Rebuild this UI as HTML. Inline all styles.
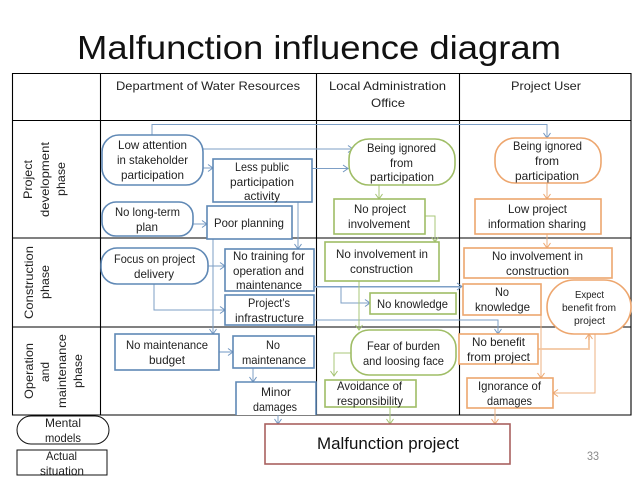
<!DOCTYPE html>
<html><head><meta charset="utf-8"><title>Malfunction influence diagram</title>
<style>
html,body{margin:0;padding:0;background:#fff;width:638px;height:479px;overflow:hidden}
svg{display:block}
text{font-family:"Liberation Sans",sans-serif;font-size:12px;fill:#222}
.b{fill:#fff;stroke:#5f88b5;stroke-width:1.6}
.g{fill:#fff;stroke:#9fbd66;stroke-width:1.6}
.o{fill:#fff;stroke:#eda66e;stroke-width:1.6}
.k{fill:#fff;stroke:#111;stroke-width:1}
.t{stroke:#000;stroke-width:1.1;fill:none}
.cb{fill:none;stroke:#7d9fc6;stroke-width:1}
.cb2{fill:none;stroke:#a5bedb;stroke-width:1.6}
.cg{fill:none;stroke:#a9c77a;stroke-width:1}
.co{fill:none;stroke:#eeb081;stroke-width:1}
.co2{fill:none;stroke:#f3c6a0;stroke-width:1.8}
</style></head><body>
<svg width="638" height="479" viewBox="0 0 638 479" xmlns="http://www.w3.org/2000/svg">
<defs>
<marker id="ab" markerUnits="userSpaceOnUse" markerWidth="10" markerHeight="10" refX="7" refY="5" orient="auto"><path d="M2 1.500L7 5L2 8.500" fill="none" stroke="#6f94bf" stroke-width="1"/></marker>
<marker id="ag" markerUnits="userSpaceOnUse" markerWidth="10" markerHeight="10" refX="7" refY="5" orient="auto"><path d="M2 1.500L7 5L2 8.500" fill="none" stroke="#a3c270" stroke-width="1"/></marker>
<marker id="ao" markerUnits="userSpaceOnUse" markerWidth="10" markerHeight="10" refX="7" refY="5" orient="auto"><path d="M2 1.500L7 5L2 8.500" fill="none" stroke="#eda66e" stroke-width="1"/></marker>
</defs>

<text x="77" y="59" style="font-size:33px;fill:#111" textLength="484" lengthAdjust="spacingAndGlyphs">Malfunction influence diagram</text>

<!-- table -->
<path class="t" d="M12.500 73.500H631V415H12.500ZM12.500 120.500H631M12.500 238H631M12.500 327H631M100.500 73.500V415M316.500 73.500V415M459.500 73.500V415"/>

<text x="116" y="90" textLength="184" lengthAdjust="spacingAndGlyphs">Department of Water Resources</text>
<text x="329" y="90" textLength="117" lengthAdjust="spacingAndGlyphs">Local Administration</text>
<text x="371" y="107" textLength="34" lengthAdjust="spacingAndGlyphs">Office</text>
<text x="511" y="90" textLength="70" lengthAdjust="spacingAndGlyphs">Project User</text>

<!-- rotated labels -->
<text transform="translate(32,199) rotate(-90)" textLength="39" lengthAdjust="spacingAndGlyphs">Project</text>
<text transform="translate(49,217) rotate(-90)" textLength="75" lengthAdjust="spacingAndGlyphs">development</text>
<text transform="translate(65,196) rotate(-90)" textLength="34" lengthAdjust="spacingAndGlyphs">phase</text>
<text transform="translate(33,319) rotate(-90)" textLength="73" lengthAdjust="spacingAndGlyphs">Construction</text>
<text transform="translate(49,299) rotate(-90)" textLength="34" lengthAdjust="spacingAndGlyphs">phase</text>
<text transform="translate(33,399) rotate(-90)" textLength="56" lengthAdjust="spacingAndGlyphs">Operation</text>
<text transform="translate(49,382) rotate(-90)" textLength="20" lengthAdjust="spacingAndGlyphs">and</text>
<text transform="translate(66,408) rotate(-90)" textLength="74" lengthAdjust="spacingAndGlyphs">maintenance</text>
<text transform="translate(82,388) rotate(-90)" textLength="34" lengthAdjust="spacingAndGlyphs">phase</text>

<!-- connectors -->
<path class="cb" d="M152 135V124.500H547V138" marker-end="url(#ab)"/>
<path class="cb" d="M203 149H353" marker-end="url(#ab)"/>
<path class="cb" d="M203 168H213" marker-end="url(#ab)"/>
<path class="cb" d="M312 168.500H348" marker-end="url(#ab)"/>
<path class="cb" d="M298 202V249" marker-end="url(#ab)"/>
<path class="cb" d="M193 224H207" marker-end="url(#ab)"/>
<path class="cb" d="M213 239V334" marker-end="url(#ab)"/>
<path class="cb" d="M208 266H225" marker-end="url(#ab)"/>
<path class="cb" d="M154 284V310H225" marker-end="url(#ab)"/>
<path class="cb2" d="M314 287H460"/>
<path class="cb" d="M314 286.500H462" marker-end="url(#ab)"/>
<path class="cb" d="M341 286V303H370" marker-end="url(#ab)"/>
<path class="cb" d="M314 320H498V334" marker-end="url(#ab)"/>
<path class="cb2" d="M219 352H233" marker-end="url(#ab)"/>
<path class="cb" d="M253 368V382" marker-end="url(#ab)"/>
<path class="cb" d="M278 415V424" marker-end="url(#ab)"/>

<path class="cg" d="M379 185V199" marker-end="url(#ag)"/>
<path class="cg" d="M425 216H435V242" marker-end="url(#ag)"/>
<path class="cg" d="M359 281V330" marker-end="url(#ag)"/>
<path class="cg" d="M351 353H334V376" marker-end="url(#ag)"/>
<path class="cg" d="M390 407V424" marker-end="url(#ag)"/>

<path class="co" d="M547 183V199" marker-end="url(#ao)"/>
<path class="co" d="M547 234V248" marker-end="url(#ao)"/>
<path class="co" d="M541 315V378" marker-end="url(#ao)"/>
<path class="co2" d="M538 349H589V335"/>
<path class="co" d="M589 340V334" marker-end="url(#ao)"/>
<path class="co" d="M595 334V393H553" marker-end="url(#ao)"/>
<path class="co" d="M495 408V424" marker-end="url(#ao)"/>

<!-- blue nodes -->
<rect class="b" x="102" y="135" width="101" height="50" rx="17"/>
<text x="118" y="149" textLength="69" lengthAdjust="spacingAndGlyphs">Low attention</text>
<text x="117" y="164" textLength="71" lengthAdjust="spacingAndGlyphs">in stakeholder</text>
<text x="121" y="179" textLength="63" lengthAdjust="spacingAndGlyphs">participation</text>

<rect class="b" x="213" y="159" width="99" height="43"/>
<text x="235" y="171" textLength="54" lengthAdjust="spacingAndGlyphs">Less public</text>
<text x="230" y="186" textLength="64" lengthAdjust="spacingAndGlyphs">participation</text>
<text x="244" y="200" textLength="36" lengthAdjust="spacingAndGlyphs">activity</text>

<rect class="b" x="102" y="202" width="91" height="34" rx="14"/>
<text x="115" y="216" textLength="65" lengthAdjust="spacingAndGlyphs">No long-term</text>
<text x="136" y="231" textLength="22" lengthAdjust="spacingAndGlyphs">plan</text>

<rect class="b" x="207" y="206" width="85" height="33"/>
<text x="214" y="227" textLength="70" lengthAdjust="spacingAndGlyphs">Poor planning</text>

<rect class="b" x="101" y="248" width="107" height="36" rx="16"/>
<text x="114" y="263" textLength="81" lengthAdjust="spacingAndGlyphs">Focus on project</text>
<text x="134" y="278" textLength="40" lengthAdjust="spacingAndGlyphs">delivery</text>

<rect class="b" x="225" y="249" width="89" height="42"/>
<text x="233" y="260" textLength="72" lengthAdjust="spacingAndGlyphs">No training for</text>
<text x="233" y="275" textLength="71" lengthAdjust="spacingAndGlyphs">operation and</text>
<text x="236" y="289" textLength="66" lengthAdjust="spacingAndGlyphs">maintenance</text>

<rect class="b" x="225" y="295" width="89" height="30"/>
<text x="248" y="307" textLength="42" lengthAdjust="spacingAndGlyphs">Project’s</text>
<text x="235" y="322" textLength="69" lengthAdjust="spacingAndGlyphs">infrastructure</text>

<rect class="b" x="115" y="334" width="104" height="36"/>
<text x="126" y="349" textLength="82" lengthAdjust="spacingAndGlyphs">No maintenance</text>
<text x="149" y="364" textLength="36" lengthAdjust="spacingAndGlyphs">budget</text>

<rect class="b" x="233" y="336" width="81" height="32"/>
<text x="266" y="349" textLength="14" lengthAdjust="spacingAndGlyphs">No</text>
<text x="242" y="364" textLength="64" lengthAdjust="spacingAndGlyphs">maintenance</text>

<path class="b" d="M236 415V382H316V415"/>
<text x="261" y="396" textLength="30" lengthAdjust="spacingAndGlyphs">Minor</text>
<text x="253" y="411" textLength="44" lengthAdjust="spacingAndGlyphs">damages</text>

<!-- green nodes -->
<rect class="g" x="349" y="139" width="106" height="46" rx="20"/>
<text x="367" y="152" textLength="69" lengthAdjust="spacingAndGlyphs">Being ignored</text>
<text x="390" y="167" textLength="23" lengthAdjust="spacingAndGlyphs">from</text>
<text x="370" y="181" textLength="64" lengthAdjust="spacingAndGlyphs">participation</text>

<rect class="g" x="334" y="199" width="91" height="35"/>
<text x="354" y="213" textLength="52" lengthAdjust="spacingAndGlyphs">No project</text>
<text x="348" y="228" textLength="62" lengthAdjust="spacingAndGlyphs">involvement</text>

<rect class="g" x="325" y="242" width="114" height="39"/>
<text x="336" y="258" textLength="92" lengthAdjust="spacingAndGlyphs">No involvement in</text>
<text x="350" y="273" textLength="63" lengthAdjust="spacingAndGlyphs">construction</text>

<rect class="g" x="370" y="293" width="86" height="21"/>
<text x="377" y="308" textLength="71" lengthAdjust="spacingAndGlyphs">No knowledge</text>

<rect class="g" x="351" y="330" width="105" height="45" rx="18"/>
<text x="367" y="350" textLength="73" lengthAdjust="spacingAndGlyphs">Fear of burden</text>
<text x="363" y="365" textLength="81" lengthAdjust="spacingAndGlyphs">and loosing face</text>

<rect class="g" x="325" y="380" width="91" height="27"/>
<text x="337" y="390" textLength="65" lengthAdjust="spacingAndGlyphs">Avoidance of</text>
<text x="337" y="405" textLength="66" lengthAdjust="spacingAndGlyphs">responsibility</text>

<!-- orange nodes -->
<rect class="o" x="495" y="138" width="106" height="45" rx="20"/>
<text x="513" y="150" textLength="69" lengthAdjust="spacingAndGlyphs">Being ignored</text>
<text x="535" y="165" textLength="24" lengthAdjust="spacingAndGlyphs">from</text>
<text x="515" y="180" textLength="64" lengthAdjust="spacingAndGlyphs">participation</text>

<rect class="o" x="475" y="199" width="126" height="35"/>
<text x="508" y="213" textLength="59" lengthAdjust="spacingAndGlyphs">Low project</text>
<text x="488" y="228" textLength="98" lengthAdjust="spacingAndGlyphs">information sharing</text>

<rect class="o" x="464" y="248" width="148" height="30"/>
<text x="492" y="260" textLength="91" lengthAdjust="spacingAndGlyphs">No involvement in</text>
<text x="506" y="275" textLength="63" lengthAdjust="spacingAndGlyphs">construction</text>

<rect class="o" x="463" y="284" width="78" height="31"/>
<text x="495" y="296" textLength="14" lengthAdjust="spacingAndGlyphs">No</text>
<text x="475" y="311" textLength="55" lengthAdjust="spacingAndGlyphs">knowledge</text>

<rect class="o" x="547" y="280" width="84" height="54" rx="27"/>
<text x="575" y="298" style="font-size:10.500px" textLength="29" lengthAdjust="spacingAndGlyphs">Expect</text>
<text x="562" y="311" style="font-size:10.500px" textLength="54" lengthAdjust="spacingAndGlyphs">benefit from</text>
<text x="574" y="324" style="font-size:10.500px" textLength="31" lengthAdjust="spacingAndGlyphs">project</text>

<rect class="o" x="459" y="334" width="79" height="30"/>
<text x="472" y="346" textLength="53" lengthAdjust="spacingAndGlyphs">No benefit</text>
<text x="467" y="361" textLength="63" lengthAdjust="spacingAndGlyphs">from project</text>

<rect class="o" x="467" y="378" width="86" height="30"/>
<text x="478" y="390" textLength="63" lengthAdjust="spacingAndGlyphs">Ignorance of</text>
<text x="487" y="405" textLength="45" lengthAdjust="spacingAndGlyphs">damages</text>

<!-- legend -->
<rect class="k" x="17" y="416" width="92" height="28" rx="14"/>
<text x="45" y="427" textLength="36" lengthAdjust="spacingAndGlyphs">Mental</text>
<text x="45" y="442" textLength="36" lengthAdjust="spacingAndGlyphs">models</text>
<rect class="k" x="17" y="450" width="90" height="25"/>
<text x="46" y="460" textLength="31" lengthAdjust="spacingAndGlyphs">Actual</text>
<text x="40" y="475" textLength="44" lengthAdjust="spacingAndGlyphs">situation</text>

<!-- outcome -->
<rect x="265" y="424" width="245" height="40" fill="#fff" stroke="#a9615f" stroke-width="1.6"/>
<text x="317" y="449" style="font-size:16.500px;fill:#111" textLength="142" lengthAdjust="spacingAndGlyphs">Malfunction project</text>
<text x="587" y="460" style="font-size:12px;fill:#8a8a8a" textLength="12" lengthAdjust="spacingAndGlyphs">33</text>
</svg>
</body></html>
